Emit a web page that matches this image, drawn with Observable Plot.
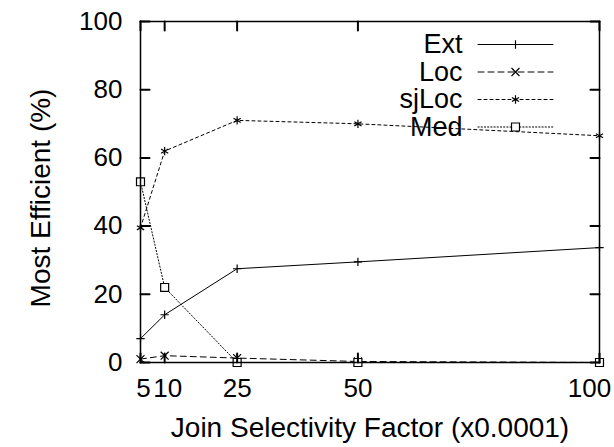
<!DOCTYPE html>
<html><head><meta charset="utf-8">
<script src="https://cdn.jsdelivr.net/npm/d3@7"></script>
<script src="https://cdn.jsdelivr.net/npm/@observablehq/plot@0.6"></script>
<style>body{margin:0;background:#fff}</style>
</head><body><div id="chart"></div>
<script>
const xValues = [5, 10, 25, 50, 100];
const extValues = [7, 14, 27.5, 29.5, 33.7];
const locValues = [1, 2, 1.3, 0.3, 0];
const sjLocValues = [39.5, 62, 71, 70, 66.5];
const medValues = [53, 22, 0, 0, 0];
const seriesNames = ["Ext", "Loc", "sjLoc", "Med"];
const xTicks = [5, 10, 25, 50, 100];
const yTicks = [0, 20, 40, 60, 80, 100];
const xLabel = "Join Selectivity Factor (x0.0001)";
const yLabel = "Most Efficient (%)";

const seriesValues = [extValues, locValues, sjLocValues, medValues];
const styles = [
  {symbol: "plus", r: 2.8, dash: null, fill: "none"},
  {symbol: "times", r: 3.7, dash: "6,4", fill: "none"},
  {symbol: "asterisk", r: 3.9, dash: "3,3", fill: "none"},
  {symbol: "square", r: 4.5, dash: "1.2,2", fill: "white"}
];
const FONT = "'Liberation Sans', Arial, Helvetica, sans-serif";
const FS = 26;
const lineShape = {draw(context, l) { context.moveTo(0, 0); context.lineTo(0, -l); }};

const marks = [];
seriesNames.forEach((name, i) => {
  const data = xValues.map((x, j) => ({series: name, x, y: seriesValues[i][j]}));
  const s = styles[i];
  marks.push(Plot.line(data, {x: "x", y: "y", stroke: "black", strokeWidth: 1, strokeDasharray: s.dash}));
  marks.push(Plot.dot(data, {x: "x", y: "y", symbol: s.symbol, r: s.r, stroke: "black", strokeWidth: 1.2, fill: s.fill}));
  // legend
  const dy = 23 + i * 27.5;
  marks.push(Plot.text([name], {text: d => d, frameAnchor: "top-right", dx: -137, dy, textAnchor: "end", lineAnchor: "middle", fontSize: 27, fill: "black"}));
  marks.push(Plot.vector([name], {frameAnchor: "top-right", dx: -84, dy, length: 75, rotate: 90, anchor: "middle", stroke: "black", strokeWidth: 1, strokeDasharray: s.dash, shape: lineShape}));
  marks.push(Plot.dot([name], {frameAnchor: "top-right", dx: -84, dy, symbol: s.symbol, r: s.r, stroke: "black", strokeWidth: 1.2, fill: s.fill}));
});

const xTickText = (ticks, dx) => Plot.axisX({ticks, tickSize: 0, tickPadding: 16, dx, label: null, fontSize: FS, tickFormat: d => String(d)});
const tickOpts = {length: 9, anchor: "start", stroke: "black", strokeWidth: 2, shape: lineShape};

const chart = Plot.plot({
  width: 614,
  height: 447,
  marginLeft: 140,
  marginRight: 15,
  marginTop: 21,
  marginBottom: 85,
  style: {fontFamily: FONT, fontSize: FS + "px", color: "black", background: "white"},
  x: {domain: [5, 100], type: "linear"},
  y: {domain: [0, 100]},
  marks: [
    Plot.axisY({ticks: yTicks, tickSize: 0, tickPadding: 18, label: null, fontSize: FS, tickFormat: d => String(d)}),
    xTickText(xTicks.slice(0, 2), 3),
    xTickText(xTicks.slice(2, 4), 0),
    xTickText(xTicks.slice(4), -10),
    ...marks,
    Plot.frame({stroke: "black", strokeWidth: 1.5}),
    // inward ticks on all four sides
    Plot.vector(yTicks, {y: d => d, frameAnchor: "left", rotate: 90, ...tickOpts}),
    Plot.vector(yTicks, {y: d => d, frameAnchor: "right", rotate: -90, ...tickOpts}),
    Plot.vector(xTicks, {x: d => d, frameAnchor: "bottom", rotate: 0, ...tickOpts}),
    Plot.vector(xTicks, {x: d => d, frameAnchor: "top", rotate: 180, ...tickOpts}),
    Plot.text([xLabel], {text: d => d, frameAnchor: "bottom", dy: 66, textAnchor: "middle", lineAnchor: "middle", fontSize: 28, fill: "black"}),
    Plot.text([yLabel], {text: d => d, frameAnchor: "left", dx: -99, dy: 6, rotate: -90, textAnchor: "middle", lineAnchor: "middle", fontSize: 28, fill: "black"})
  ]
});
document.getElementById("chart").appendChild(chart);
</script>
</body></html>
